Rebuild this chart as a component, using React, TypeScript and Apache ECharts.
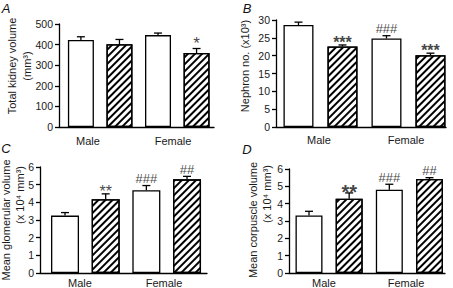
import { useEffect, useRef } from "react";
import * as echarts from "echarts";

// ---- Data (bar order: Male control, Male treated, Female control, Female treated)
const groups = ["Male", "Female"];

const kidneyMean = [422, 402, 446, 359];
const kidneySem = [16, 23, 10, 22];
const kidneyMarks = ["", "", "", "*"];

const nephronMean = [28.6, 22.6, 24.8, 20.1];
const nephronSem = [0.8, 0.4, 0.8, 0.6];
const nephronMarks = ["", "***", "###", "***"];

const glomMean = [3.25, 4.18, 4.68, 5.3];
const glomSem = [0.17, 0.3, 0.27, 0.17];
const glomMarks = ["", "**", "###", "##"];

const corpMean = [3.32, 4.28, 4.8, 5.42];
const corpSem = [0.24, 0.34, 0.32, 0.08];
const corpMarks = ["", "**", "###", "##"];

const yMaxes = [500, 30, 6, 6];
const ySteps = [100, 5, 1, 1];
const letters = ["A", "B", "C", "D"];
const yNames = [
  ["Total kidney volume", "(mm³)"],
  ["Nephron no. (x10³)"],
  ["Mean glomerular volume", "(x 10⁴ mm³)"],
  ["Mean corpuscle volume", "(x 10⁴ mm³)"],
];

const FONT = "'Liberation Sans', Arial, Helvetica, sans-serif";
const TXT = "#1a1a1a";

// ---- Layout (positions / styles only)
const layouts = [
  {
    grid: { left: 59, top: 24, width: 155, height: 103 },
    xMin: -0.568, xMax: 3.452, barWidth: 26,
    letterPos: [6, 8], namePos: [[12, 66], [27, 66]], catPos: [[88, 141], [173, 141]],
    starSize: 17, starBold: false, starDist: -4,
  },
  {
    grid: { left: 276, top: 20, width: 170, height: 107 },
    xMin: -0.511, xMax: 3.353, barWidth: 30,
    letterPos: [247, 8], namePos: [[245, 66]], catPos: [[319, 140], [406, 140]],
    starSize: 16, starBold: true, starDist: -6,
  },
  {
    grid: { left: 40, top: 167, width: 167, height: 106 },
    xMin: -0.615, xMax: 3.491, barWidth: 28,
    letterPos: [6, 148], namePos: [[6, 220], [20, 195]], catPos: [[80, 283], [164, 283]],
    starSize: 16, starBold: false, starDist: -6,
  },
  {
    grid: { left: 289, top: 169, width: 156, height: 104 },
    xMin: -0.498, xMax: 3.386, barWidth: 27,
    letterPos: [247, 149], namePos: [[253, 220], [267, 194]], catPos: [[324, 283], [406, 283]],
    starSize: 20, starBold: true, starDist: -10,
  },
];

const panelData = [
  { means: kidneyMean, sems: kidneySem, marks: kidneyMarks },
  { means: nephronMean, sems: nephronSem, marks: nephronMarks },
  { means: glomMean, sems: glomSem, marks: glomMarks },
  { means: corpMean, sems: corpSem, marks: corpMarks },
];

const plainStyle = { color: "#fff", borderColor: "#000", borderWidth: 1.3 };
const hatchStyle = {
  color: "#fff",
  borderColor: "#000",
  borderWidth: 1.3,
  decal: {
    symbol: "rect",
    symbolSize: 1,
    dashArrayX: [1, 0],
    dashArrayY: [1.4, 2.4],
    rotation: -Math.PI / 4,
    color: "#000",
    backgroundColor: "#fff",
  },
};

function buildOption() {
  const grid: any[] = [];
  const xAxis: any[] = [];
  const yAxis: any[] = [];
  const series: any[] = [];
  const graphic: any[] = [];

  panelData.forEach((d, k) => {
    const L = layouts[k];
    grid.push({ ...L.grid });
    xAxis.push({
      gridIndex: k,
      type: "value",
      min: L.xMin,
      max: L.xMax,
      axisLine: { show: true, onZero: false, lineStyle: { color: "#000", width: 1.3 } },
      axisTick: { show: false },
      axisLabel: { show: false },
      splitLine: { show: false },
    });
    yAxis.push({
      gridIndex: k,
      type: "value",
      min: 0,
      max: yMaxes[k],
      interval: ySteps[k],
      axisLine: { show: true, onZero: false, lineStyle: { color: "#000", width: 1.3 } },
      axisTick: { show: true, length: 4, lineStyle: { color: "#000", width: 1.3 } },
      axisLabel: { fontSize: 10.5, color: TXT, margin: 6, fontFamily: FONT },
      splitLine: { show: false },
    });

    series.push({
      type: "bar",
      xAxisIndex: k,
      yAxisIndex: k,
      barWidth: L.barWidth,
      data: d.means.map((v, i) => ({ value: [i, v], itemStyle: i % 2 ? hatchStyle : plainStyle })),
      z: 2,
    });

    series.push({
      type: "custom",
      xAxisIndex: k,
      yAxisIndex: k,
      z: 3,
      data: d.means.map((v, i) => [i, v, v + d.sems[i]]),
      renderItem: (_p: any, api: any) => {
        const x = api.value(0);
        const p0 = api.coord([x, api.value(1)]);
        const p1 = api.coord([x, api.value(2)]);
        const cap = 4;
        const st = { stroke: "#000", lineWidth: 1.3 };
        return {
          type: "group",
          children: [
            { type: "line", shape: { x1: p0[0], y1: p0[1], x2: p1[0], y2: p1[1] }, style: st },
            { type: "line", shape: { x1: p1[0] - cap, y1: p1[1], x2: p1[0] + cap, y2: p1[1] }, style: st },
          ],
        };
      },
    });

    series.push({
      type: "scatter",
      xAxisIndex: k,
      yAxisIndex: k,
      symbolSize: 1,
      itemStyle: { color: "rgba(0,0,0,0)" },
      z: 4,
      data: d.marks
        .map((m, i) => ({ m, i }))
        .filter((o) => o.m)
        .map(({ m, i }) => {
          const star = m[0] === "*";
          return {
            value: [i, d.means[i] + d.sems[i]],
            label: {
              show: true,
              position: "top",
              formatter: m,
              color: "#111",
              fontFamily: FONT,
              fontSize: star ? L.starSize : 13,
              fontWeight: star && L.starBold ? "bold" : "normal",
              distance: star ? L.starDist : 0,
            },
          };
        }),
    });

    graphic.push({
      type: "text",
      x: L.letterPos[0],
      y: L.letterPos[1],
      style: {
        text: letters[k],
        fontSize: 13,
        fontStyle: "italic",
        fontFamily: FONT,
        fill: "#111",
        align: "center",
        verticalAlign: "middle",
      },
    });

    yNames[k].forEach((t, j) => {
      graphic.push({
        type: "text",
        x: L.namePos[j][0],
        y: L.namePos[j][1],
        rotation: Math.PI / 2,
        style: {
          text: t,
          fontSize: 11,
          fontFamily: FONT,
          fill: TXT,
          align: "center",
          verticalAlign: "middle",
        },
      });
    });

    groups.forEach((g, j) => {
      graphic.push({
        type: "text",
        x: L.catPos[j][0],
        y: L.catPos[j][1],
        style: {
          text: g,
          fontSize: 11,
          fontFamily: FONT,
          fill: TXT,
          align: "center",
          verticalAlign: "middle",
        },
      });
    });
  });

  return {
    animation: false,
    backgroundColor: "#fff",
    grid,
    xAxis,
    yAxis,
    series,
    graphic,
  };
}

export default function App() {
  const ref = useRef<HTMLDivElement>(null);
  useEffect(() => {
    document.body.style.margin = "0";
    const chart = echarts.init(ref.current!, undefined, { renderer: "svg" });
    chart.setOption(buildOption() as any);
    return () => chart.dispose();
  }, []);
  return <div ref={ref} style={{ width: 453, height: 288 }} />;
}
